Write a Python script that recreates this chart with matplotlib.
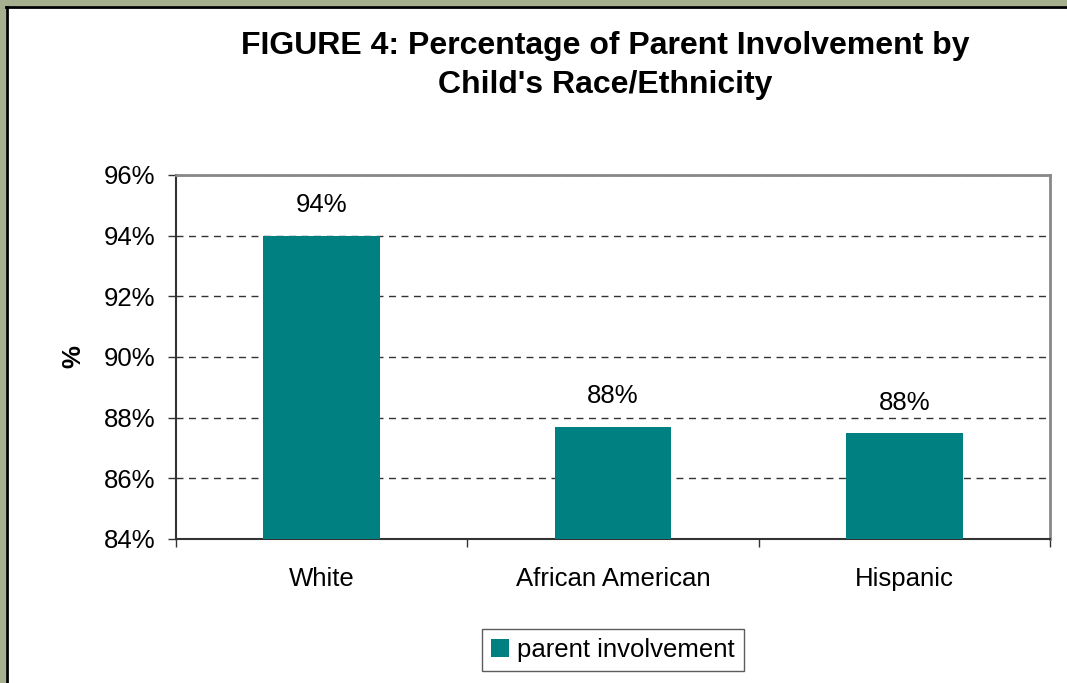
import matplotlib.pyplot as plt
from matplotlib.patches import Rectangle
from matplotlib.lines import Line2D

###### DATA
categories = ['White', 'African American', 'Hispanic']
involvement = [94.0, 87.7, 87.5]
bar_labels = ['94%', '88%', '88%']
y_ticks = [84, 86, 88, 90, 92, 94, 96]

plt.rcParams['font.family'] = ['Liberation Sans', 'DejaVu Sans']

W, H = 1067, 683

###### FIGURE
fig = plt.figure(figsize=(W / 100, H / 100), dpi=100)
fig.patch.set_facecolor('white')

# olive band on left and top, black rule inside it
olive = '#a6b08e'
fig.patches.append(Rectangle((0, 0), 6 / W, 1, transform=fig.transFigure,
                             facecolor=olive, edgecolor='none', zorder=0))
fig.patches.append(Rectangle((0, 1 - 6 / H), 1, 6 / H, transform=fig.transFigure,
                             facecolor=olive, edgecolor='none', zorder=0))
fig.lines.append(Line2D([7 / W, 7 / W], [0, 1 - 7 / H], transform=fig.transFigure,
                        color='black', linewidth=2))
fig.lines.append(Line2D([6 / W, 1], [1 - 7 / H, 1 - 7 / H], transform=fig.transFigure,
                        color='black', linewidth=2))

ax = fig.add_axes([176 / W, 1 - 539 / H, (1050 - 176) / W, (539 - 175) / H])

x = range(len(categories))
ax.bar(x, involvement, width=0.4, color='#008080', zorder=3, label='parent involvement')
for xi, v, lab in zip(x, involvement, bar_labels):
    ax.text(xi, v + 1.0, lab, ha='center', va='center', fontsize=18.5)

ax.set_xlim(-0.5, 2.5)
ax.set_ylim(84, 96)
ax.set_yticks(y_ticks)
ax.set_yticklabels([f'{t}%' for t in y_ticks], fontsize=18.5)
ax.set_xticks([0, 1, 2])
ax.set_xticklabels(categories, fontsize=18.5)
ax.set_xticks([-0.5, 0.5, 1.5, 2.5], minor=True)
ax.tick_params(axis='x', which='major', length=0, pad=20)
ax.tick_params(axis='x', which='minor', length=6, width=1, color='#333333', direction='out')
ax.tick_params(axis='y', length=6, width=1, color='#333333', pad=9)
ax.grid(axis='y', color='#333333', linestyle=(0, (5, 4)), linewidth=1, zorder=1)

for side in ['top', 'right']:
    ax.spines[side].set_color('#888888')
    ax.spines[side].set_linewidth(2)
for side in ['left', 'bottom']:
    ax.spines[side].set_color('#333333')
    ax.spines[side].set_linewidth(1.5)

ax.set_ylabel('%', fontsize=18.5, fontweight='bold', labelpad=13)

fig.text(0.567, 1 - 65.5 / H, "FIGURE 4: Percentage of Parent Involvement by\nChild's Race/Ethnicity",
         ha='center', va='center', fontsize=23, fontweight='bold', linespacing=1.38)

ax.legend(loc='center', bbox_to_anchor=(0.5, 1 - (650 - 175) / (539 - 175)), fontsize=18.5,
          frameon=True, fancybox=False, edgecolor='#333333', handlelength=0.7,
          handleheight=0.7, handletextpad=0.3, borderpad=0.35)

fig.savefig('out.png', dpi=100)
